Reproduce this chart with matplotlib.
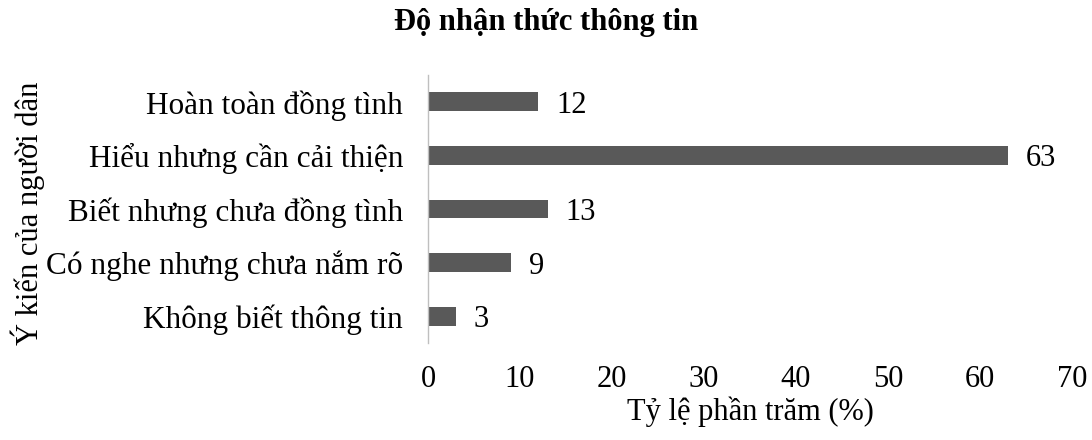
"""Horizontal bar chart: Độ nhận thức thông tin."""

import matplotlib
matplotlib.use("Agg")
import matplotlib.pyplot as plt

# data (top to bottom as shown)
categories = [
    "Hoàn toàn đồng tình",
    "Hiểu nhưng cần cải thiện",
    "Biết nhưng chưa đồng tình",
    "Có nghe nhưng chưa nắm rõ",
    "Không biết thông tin",
]
values = [12, 63, 13, 9, 3]
x_ticks = [0, 10, 20, 30, 40, 50, 60, 70]

plt.rcParams["font.family"] = ["Liberation Serif", "DejaVu Serif"]

fig = plt.figure(figsize=(10.92, 4.40), dpi=100)
ax = fig.add_axes([0.392, 0.2205, 0.5897, 0.609])

pos = list(range(len(categories)))
ax.barh(pos, values, height=0.35, color="#595959")
ax.set_ylim(len(categories) - 0.5, -0.5)
ax.set_xlim(0, 70)

# value labels
for y, v in zip(pos, values):
    ax.annotate(f"{v}", xy=(v, y), xytext=(13, 0), textcoords="offset points",
                ha="left", va="center_baseline", fontsize=22)

ax.set_yticks(pos)
ax.set_yticklabels(categories, fontsize=22.5)
ax.set_xticks(x_ticks)
ax.set_xticklabels([str(t) for t in x_ticks], fontsize=22)
ax.tick_params(axis="both", length=0)
ax.tick_params(axis="x", pad=16)
ax.tick_params(axis="y", pad=18)
for lbl in ax.get_yticklabels():
    lbl.set_verticalalignment("center_baseline")

for side in ("top", "right", "bottom"):
    ax.spines[side].set_visible(False)
ax.spines["left"].set_color("#bfbfbf")
ax.spines["left"].set_linewidth(1.0)

ax.set_xlabel("Tỷ lệ phần trăm (%)", fontsize=22, labelpad=2)
fig.text(0.01, 0.515, "Ý kiến của người dân", rotation=90, fontsize=22,
         ha="left", va="center")
fig.suptitle("Độ nhận thức thông tin", fontsize=22, fontweight="bold", y=0.982)

fig.savefig("out.png", dpi=100)
